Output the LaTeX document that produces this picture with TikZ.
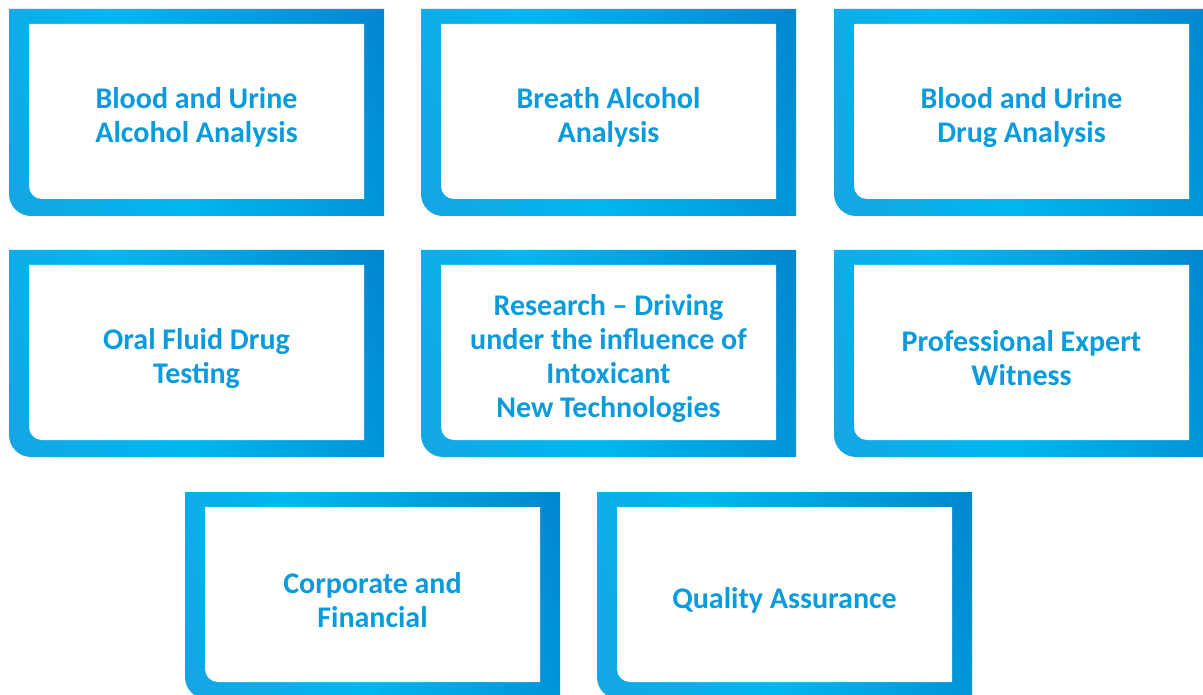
\documentclass[tikz,border=0pt]{standalone}
\usepackage{fontspec}
\setmainfont{Carlito}

\definecolor{frameA}{HTML}{16A5E3}
\definecolor{frameB}{HTML}{00B8F0}
\definecolor{frameC}{HTML}{0086CE}
\definecolor{labelblue}{HTML}{0A9BDC}
\pgfdeclarehorizontalshading{framefade}{100bp}{color(0bp)=(frameA); color(17bp)=(frameA); color(43bp)=(frameB); color(83bp)=(frameC); color(100bp)=(frameC)}

\def\boxw{375}
\def\boxh{207}

\begin{document}
\begin{tikzpicture}[x=1pt,y=-1pt]
    \tikzstyle{frame}=[shading=framefade, shading angle=21]
    \tikzstyle{window}=[fill=white]
    \tikzstyle{service}=[align=center, text=labelblue, inner sep=0pt, font=\bfseries\fontsize{30}{34}\selectfont]

    \useasboundingbox (0,0) rectangle (1203,695);

    % Draw the framed boxes, then the white window and the label in each
    \foreach \name / \x / \y / \txt in {
        alcohol/9/9/{Blood and Urine\\Alcohol Analysis},
        breath/421/9/{Breath Alcohol\\Analysis},
        drugs/834/9/{Blood and Urine\\Drug Analysis},
        oral/9/250/{Oral Fluid Drug\\Testing},
        research/421/250/{Research -- Driving\\under the influence of\\Intoxicant\\New Technologies},
        expert/834/250/{Professional Expert\\Witness},
        corporate/185/492/{Corporate and\\Financial},
        quality/597/492/{Quality Assurance}}
    {
        \path[frame] (\x,\y) -- (\x+\boxw,\y) -- (\x+\boxw,\y+\boxh) -- (\x+22,\y+\boxh)
            arc[start angle=90, end angle=180, radius=22] -- cycle;
        \path[window] (\x+20,\y+15) -- (\x+355,\y+15) -- (\x+355,\y+190) -- (\x+33,\y+190)
            arc[start angle=90, end angle=180, radius=13] -- cycle;
        \node[service] (\name) at (\x+187.5,\y+108.5) {\txt};
    }
\end{tikzpicture}
\end{document}
